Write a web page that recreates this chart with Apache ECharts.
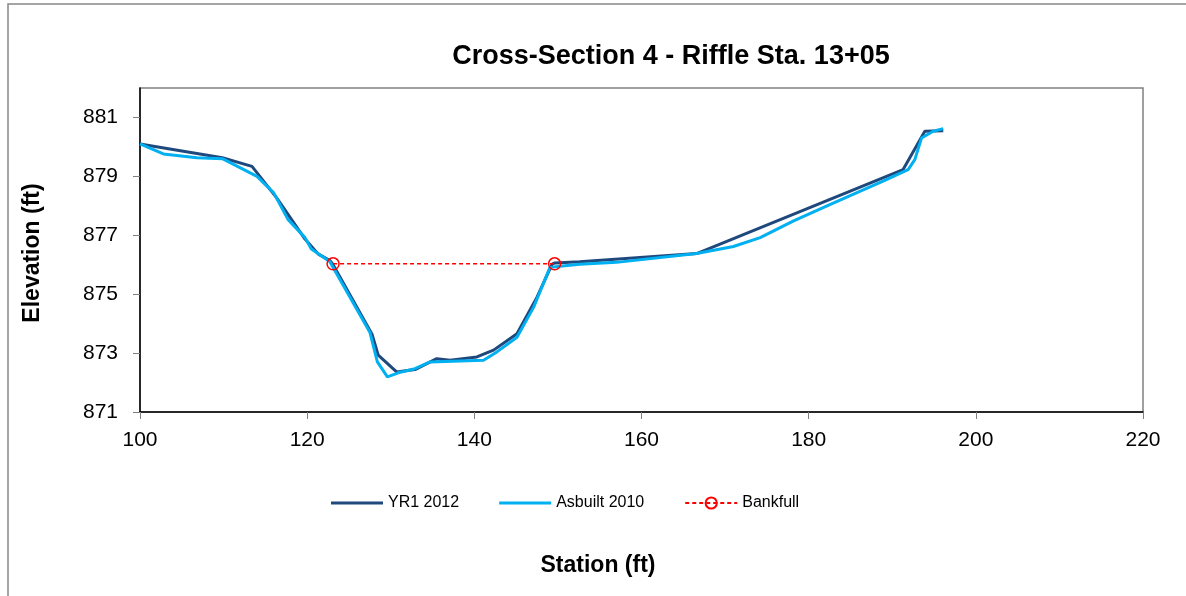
<!DOCTYPE html>
<html>
<head>
<meta charset="utf-8">
<script src="https://cdn.jsdelivr.net/npm/echarts@6/dist/echarts.min.js"></script>
<style>
html,body{margin:0;padding:0;background:#fff;}
#chart{width:1186px;height:596px;}
</style>
</head>
<body>
<div id="chart"></div>
<script>
var yr1Station = [100, 109.85, 113.4, 116.35, 119.74, 121.34, 122.73, 123.1, 127.76, 128.5, 130.7, 132.9, 135.5, 137.1, 140.3, 142.3, 145.1, 147.5, 149.3, 149.65, 152.6, 166.6, 191.3, 193.9, 196.1];
var yr1Elev    = [880.1, 879.63, 879.34, 878.27, 876.87, 876.36, 876.14, 876.0, 873.64, 872.93, 872.36, 872.44, 872.81, 872.76, 872.87, 873.1, 873.66, 874.9, 876.02, 876.06, 876.1, 876.38, 879.23, 880.53, 880.55];

var asbStation = [100, 102.8, 106.8, 109.85, 114, 116, 117.7, 119.74, 120.5, 122.7, 127.5, 128.4, 129.6, 130.9, 132.9, 134.7, 141.1, 142.7, 145.1, 147.1, 149.05, 150.25, 152.6, 157, 166.6, 171, 174.2, 178.2, 182.6, 188.9, 191.9, 192.7, 193.5, 194.9, 196.1];
var asbElev    = [880.1, 879.76, 879.63, 879.6, 879.0, 878.44, 877.54, 876.92, 876.53, 876.11, 873.71, 872.7, 872.19, 872.33, 872.47, 872.7, 872.76, 873.04, 873.54, 874.56, 875.91, 875.95, 876.02, 876.08, 876.38, 876.62, 876.92, 877.49, 878.05, 878.84, 879.23, 879.57, 880.3, 880.53, 880.62];

var bankStation = [123.1, 149.6];
var bankElev    = [876.03, 876.03];

var yTicks = [871, 873, 875, 877, 879, 881];
var xTicks = [100, 120, 140, 160, 180, 200, 220];

function pairs(xs, ys) { return xs.map(function (x, i) { return [x, ys[i]]; }); }

var chart = echarts.init(document.getElementById('chart'), null, {renderer: 'canvas'});
var font = 'Arial, "Liberation Sans", sans-serif';
chart.setOption({
  animation: false,
  backgroundColor: '#ffffff',
  title: {
    text: 'Cross-Section 4 - Riffle Sta. 13+05',
    left: 666, top: 38, textAlign: 'center',
    textStyle: {fontFamily: font, fontSize: 27, fontWeight: 'bold', color: '#000'}
  },
  graphic: [
    {type: 'rect', shape: {x: 8, y: 4, width: 1200, height: 620}, style: {fill: 'none', stroke: '#888', lineWidth: 1.5}, silent: true, z: -1},
    {type: 'text', x: 598, y: 566, style: {text: 'Station (ft)', font: 'bold 23px Arial, "Liberation Sans", sans-serif', fill: '#000', align: 'center', verticalAlign: 'middle'}},
    {type: 'text', x: 33, y: 253, rotation: Math.PI / 2, style: {text: 'Elevation (ft)', font: 'bold 23px Arial, "Liberation Sans", sans-serif', fill: '#000', align: 'center', verticalAlign: 'middle'}}
  ],
  legend: {
    top: 490, left: 326,
    itemWidth: 52, itemHeight: 14, itemGap: 40,
    textStyle: {fontFamily: font, fontSize: 16, color: '#000'},
    data: [
      {name: 'YR1 2012', icon: 'path://M0,6 L52,6 L52,9 L0,9 Z'},
      {name: 'Asbuilt 2010', icon: 'path://M0,6 L52,6 L52,9 L0,9 Z'},
      {name: 'Bankfull'}
    ]
  },
  grid: {left: 140, right: 43, top: 88, bottom: 184, show: true, borderColor: '#808080', borderWidth: 1.5, containLabel: false},
  xAxis: {
    type: 'value', min: 100, max: 220, interval: 20,
    axisLine: {show: true, lineStyle: {color: '#000', width: 1.5}},
    axisTick: {show: true, inside: false, length: 7, lineStyle: {color: '#808080'}},
    axisLabel: {fontFamily: font, fontSize: 21, color: '#000', margin: 18},
    splitLine: {show: false}
  },
  yAxis: {
    type: 'value', min: 871, max: 882, interval: 2,
    axisLine: {show: true, lineStyle: {color: '#000', width: 1.5}},
    axisTick: {show: true, inside: false, length: 7, lineStyle: {color: '#808080'}, customValues: yTicks},
    axisLabel: {fontFamily: font, fontSize: 21, color: '#000', margin: 22, customValues: yTicks},
    splitLine: {show: false}
  },
  series: [
    {
      name: 'YR1 2012', type: 'line', data: pairs(yr1Station, yr1Elev),
      symbol: 'none', lineStyle: {color: '#1F497D', width: 3}, itemStyle: {color: '#1F497D'}, z: 2
    },
    {
      name: 'Asbuilt 2010', type: 'line', data: pairs(asbStation, asbElev),
      symbol: 'none', lineStyle: {color: '#00B0F0', width: 3}, itemStyle: {color: '#00B0F0'}, z: 3
    },
    {
      name: 'Bankfull', type: 'line', data: pairs(bankStation, bankElev),
      symbol: 'circle', symbolSize: 12, showSymbol: true,
      lineStyle: {color: '#FF0000', width: 1.5, type: [4, 3]},
      itemStyle: {color: 'rgba(255,255,255,0)', borderColor: '#FF0000', borderWidth: 1.5}, z: 4
    }
  ]
});
</script>
</body>
</html>
